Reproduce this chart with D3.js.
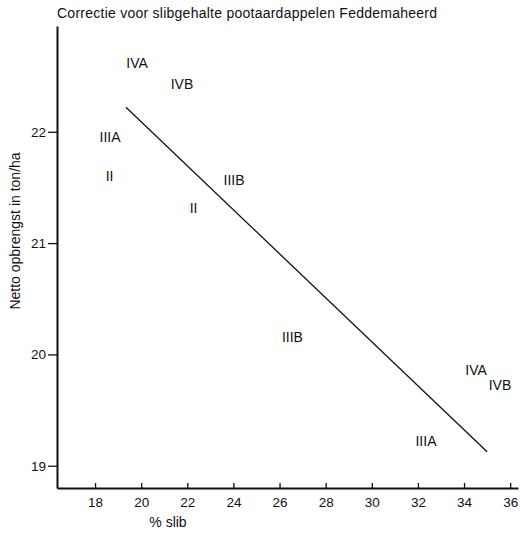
<!DOCTYPE html>
<html>
<head>
<meta charset="utf-8">
<script src="https://cdn.jsdelivr.net/npm/d3@7"></script>
<style>
  body { margin: 0; background: #fff; }
  svg { display: block; font-family: "Liberation Sans", Arial, sans-serif; }
</style>
</head>
<body>
<div id="chart"></div>
<script>
//DATA
const labels = ['IVA', 'IVB', 'IIIA', 'II', 'II', 'IIIB', 'IIIB', 'IVA', 'IVB', 'IIIA'];
const slib = [19.82, 21.77, 18.65, 18.63, 22.27, 24.03, 26.56, 34.52, 35.56, 32.35];
const opbrengst = [22.62, 22.43, 21.95, 21.6, 21.32, 21.57, 20.16, 19.86, 19.73, 19.22];

//REGRESSION LINE END POINTS
const lineX = [19.34, 35.0];
const lineY = [22.22, 19.125];

const xTicks = [18, 20, 22, 24, 26, 28, 30, 32, 34, 36];
const yTicks = [19, 20, 21, 22];

const width = 520;
const height = 535;

const svg = d3.select('#chart').append('svg')
    .attr('width', width)
    .attr('height', height);

const x = d3.scaleLinear().domain([16.35, 36.34]).range([57, 518]);
const y = d3.scaleLinear().domain([18.8, 22.95]).range([488, 26]);

//AXES
const xAxis = svg.append('g')
    .attr('transform', 'translate(0,488)')
    .call(d3.axisBottom(x).tickValues(xTicks).tickFormat(d3.format('d'))
        .tickSizeInner(-5).tickSizeOuter(0).tickPadding(9));

const yAxis = svg.append('g')
    .attr('transform', 'translate(57,0)')
    .call(d3.axisLeft(y).tickValues(yTicks).tickFormat(d3.format('d'))
        .tickSizeInner(9).tickSizeOuter(0).tickPadding(2));

[xAxis, yAxis].forEach(ax => {
    ax.select('.domain').attr('stroke', '#111').attr('stroke-width', 2);
    ax.selectAll('.tick line').attr('stroke', '#111').attr('stroke-width', 1.3);
    ax.selectAll('.tick text')
        .attr('fill', '#111')
        .style('font-size', '13.5px')
        .style('font-family', '"Liberation Sans", Arial, sans-serif');
});

//TITLE
svg.append('text')
    .attr('x', 57)
    .attr('y', 18)
    .attr('fill', '#111')
    .style('font-size', '14px')
    .style('letter-spacing', '0.25px')
    .text('Correctie voor slibgehalte pootaardappelen Feddemaheerd');

//AXIS LABELS
svg.append('text')
    .attr('x', 168)
    .attr('y', 527)
    .attr('text-anchor', 'middle')
    .attr('fill', '#111')
    .style('font-size', '14px')
    .text('% slib');

svg.append('text')
    .attr('transform', 'translate(20,231) rotate(-90)')
    .attr('text-anchor', 'middle')
    .attr('fill', '#111')
    .style('font-size', '14px')
    .text('Netto opbrengst in ton/ha');

//LINE
svg.append('line')
    .attr('x1', x(lineX[0]))
    .attr('y1', y(lineY[0]))
    .attr('x2', x(lineX[1]))
    .attr('y2', y(lineY[1]))
    .attr('stroke', '#111')
    .attr('stroke-width', 1.3);

//POINT LABELS
svg.append('g').selectAll('text')
    .data(labels)
    .join('text')
    .attr('x', (d, i) => x(slib[i]))
    .attr('y', (d, i) => y(opbrengst[i]))
    .attr('dy', '0.36em')
    .attr('text-anchor', 'middle')
    .attr('fill', '#111')
    .style('font-size', '14px')
    .text(d => d);
</script>
</body>
</html>
